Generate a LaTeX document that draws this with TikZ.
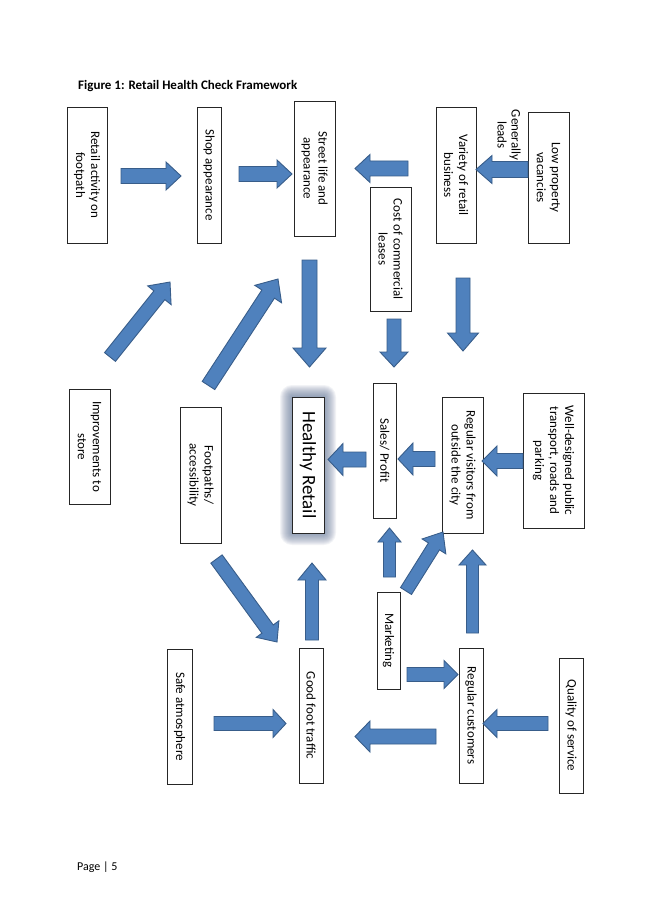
\documentclass[tikz,border=0pt]{standalone}
\usepackage{fontspec}
\setmainfont{Carlito}
\usetikzlibrary{calc}
\definecolor{arrowfill}{HTML}{4F81BD}
\definecolor{arrowedge}{HTML}{385D8A}
\definecolor{glowc}{RGB}{105,124,155}
\tikzset{
  box/.style={draw=black!85, line width=0.8pt, fill=white, inner sep=0pt, outer sep=0pt,
    align=center, rotate=-90, font=\fontsize{13}{15}\selectfont},
  barrow/.style={fill=arrowfill, draw=arrowedge, line width=0.9pt, line join=miter},
}
% tail, tip, shaft half width, head half width, head length
\newcommand\blockarrow[5]{%
  \coordinate (hb) at ($(#2)!#5!(#1)$);
  \filldraw[barrow] ($(#1)!#3!90:(#2)$) -- ($(hb)!#3!90:(#2)$) -- ($(hb)!#4!90:(#2)$)
    -- (#2) -- ($(hb)!#4!-90:(#2)$) -- ($(hb)!#3!-90:(#2)$) -- ($(#1)!#3!-90:(#2)$) -- cycle;
}
\begin{document}
\begin{tikzpicture}[x=1pt,y=-1pt]
\useasboundingbox (0,0) rectangle (645,912);
\fill[white] (0,0) rectangle (645,912);

% title and footer
\node[anchor=west, inner sep=0pt, font=\bfseries\fontsize{13}{15}\selectfont] (title) at (78,86) {Figure 1: Retail Health Check Framework};
\node[anchor=west, inner sep=0pt, font=\fontsize{12}{14}\selectfont] (page) at (77,867) {Page | 5};

% glow around Healthy Retail
\foreach \i in {12,11,...,1}{
  \fill[glowc, opacity=0.085, rounded corners=\i pt] (292-\i,397-\i) rectangle (324+\i,533+\i);
}

% boxes (minimum width = vertical extent on page, minimum height = horizontal extent)
\node[box, minimum width=136, minimum height=40] (ret) at (87,175) {Retail activity on\\footpath};
\node[box, minimum width=136, minimum height=24] (shop) at (209,175) {Shop appearance};
\node[box, minimum width=135, minimum height=41] (street) at (314.5,168.5) {Street life and\\appearance};
\node[box, minimum width=136, minimum height=40] (variety) at (456,175) {Variety of retail\\business};
\node[box, minimum width=131, minimum height=41] (low) at (548.5,177.5) {Low property\\vacancies};
\node[box, minimum width=124, minimum height=41] (cost) at (390.5,249) {Cost of commercial\\leases};
\node[box, minimum width=115, minimum height=41] (improve) at (89.5,446.5) {Improvements to\\store};
\node[box, minimum width=136, minimum height=41] (foot) at (200.5,475) {Footpaths/\\accessibility};
\node[box, minimum width=136, minimum height=32, line width=1pt, font=\fontsize{19}{22}\selectfont] (healthy) at (308,465) {Healthy Retail};
\node[box, minimum width=135, minimum height=23] (sales) at (384.5,450.5) {Sales/ Profit};
\node[box, minimum width=136, minimum height=41] (visitors) at (462.5,465) {Regular visitors from\\outside the city};
\node[box, minimum width=135, minimum height=61] (welld) at (553.5,460.5) {Well-designed public\\transport, roads and\\parking};
\node[box, minimum width=97, minimum height=23] (marketing) at (388.5,640.5) {Marketing};
\node[box, minimum width=135, minimum height=25] (safe) at (179.5,716.5) {Safe atmosphere};
\node[box, minimum width=135, minimum height=24] (good) at (311,715.5) {Good foot traffic};
\node[box, minimum width=135, minimum height=24] (regcust) at (471,715.5) {Regular customers};
\node[box, minimum width=135, minimum height=24] (quality) at (571,725.5) {Quality of service};

\node[rotate=-90, align=center, inner sep=0pt, font=\fontsize{13}{14}\selectfont] (gl) at (509,135) {Generally\\leads};

% arrow end points
\coordinate (a1s) at (121,176);   \coordinate (a1e) at (181,176);
\coordinate (a2s) at (239,174);   \coordinate (a2e) at (292,174);
\coordinate (a3s) at (408,168.5); \coordinate (a3e) at (355,168.5);
\coordinate (a4s) at (528,169.5); \coordinate (a4e) at (476,169.5);
\coordinate (a5s) at (309.5,260); \coordinate (a5e) at (309.5,367);
\coordinate (a6s) at (394,319);   \coordinate (a6e) at (394,367);
\coordinate (a7s) at (463,278);   \coordinate (a7e) at (463,351);
\coordinate (a8s) at (110,357);   \coordinate (a8e) at (170,282);
\coordinate (a9s) at (208.5,385.5); \coordinate (a9e) at (278,279);
\coordinate (a10s) at (366,459.5); \coordinate (a10e) at (328,459.5);
\coordinate (a11s) at (435,459);  \coordinate (a11e) at (398,459);
\coordinate (a12s) at (523,461);  \coordinate (a12e) at (482,461);
\coordinate (a13s) at (216.5,559); \coordinate (a13e) at (277,642);
\coordinate (a14s) at (312,640);  \coordinate (a14e) at (312,563);
\coordinate (a15s) at (389.5,577); \coordinate (a15e) at (389.5,528);
\coordinate (a16s) at (406,591);  \coordinate (a16e) at (443,532);
\coordinate (a17s) at (472.5,633); \coordinate (a17e) at (472.5,550);
\coordinate (a18s) at (407,674.5); \coordinate (a18e) at (458,674.5);
\coordinate (a19s) at (214,723.5); \coordinate (a19e) at (286,723.5);
\coordinate (a20s) at (436,736.5); \coordinate (a20e) at (355,736.5);
\coordinate (a21s) at (548,723.5); \coordinate (a21e) at (483,723.5);

\blockarrow{a1s}{a1e}{7.5pt}{14pt}{15pt}
\blockarrow{a2s}{a2e}{7.5pt}{14pt}{15pt}
\blockarrow{a3s}{a3e}{7.5pt}{14pt}{15pt}
\blockarrow{a4s}{a4e}{8pt}{14pt}{16pt}
\blockarrow{a5s}{a5e}{7.5pt}{16.5pt}{19pt}
\blockarrow{a6s}{a6e}{7pt}{14pt}{15pt}
\blockarrow{a7s}{a7e}{7pt}{15.5pt}{18pt}
\blockarrow{a8s}{a8e}{7pt}{15pt}{17pt}
\blockarrow{a9s}{a9e}{7.5pt}{16pt}{18pt}
\blockarrow{a10s}{a10e}{7.5pt}{16pt}{15pt}
\blockarrow{a11s}{a11e}{7.5pt}{16pt}{15pt}
\blockarrow{a12s}{a12e}{7.5pt}{15pt}{15pt}
\blockarrow{a13s}{a13e}{7pt}{14pt}{16pt}
\blockarrow{a14s}{a14e}{6.5pt}{14pt}{17pt}
\blockarrow{a15s}{a15e}{6pt}{11.5pt}{14pt}
\blockarrow{a16s}{a16e}{6.5pt}{14pt}{17pt}
\blockarrow{a17s}{a17e}{6pt}{13.5pt}{15pt}
\blockarrow{a18s}{a18e}{7pt}{14pt}{14pt}
\blockarrow{a19s}{a19e}{7pt}{14pt}{13pt}
\blockarrow{a20s}{a20e}{7.5pt}{15.5pt}{15pt}
\blockarrow{a21s}{a21e}{7pt}{14pt}{14pt}
\end{tikzpicture}
\end{document}
